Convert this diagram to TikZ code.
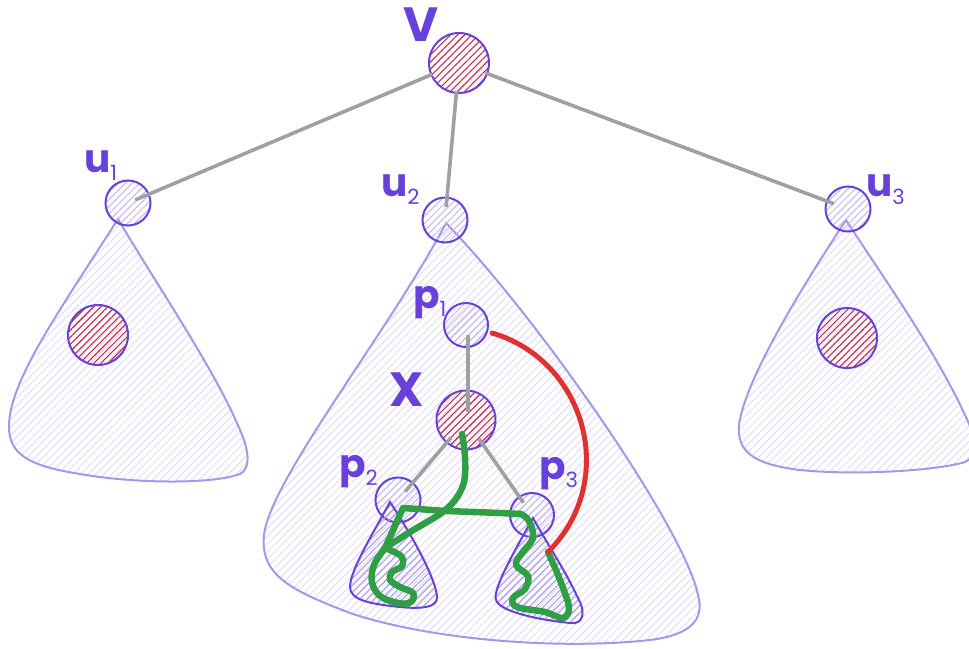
\documentclass[tikz,border=0pt]{standalone}
\usepackage{fontspec}
\newfontfamily\lblfont{Poppins}
\usetikzlibrary{patterns.meta}
\definecolor{vio}{HTML}{6741D9}
\definecolor{trib}{HTML}{A597EA}
\definecolor{trih}{HTML}{DDD7F8}
\definecolor{strih}{HTML}{A898EE}
\definecolor{uh}{HTML}{C2B6F4}
\definecolor{rh}{HTML}{C92A4A}
\definecolor{edgegray}{HTML}{A0A0A0}
\definecolor{grn}{HTML}{2F9E44}
\definecolor{rd}{HTML}{E03131}
\tikzset{
  tri/.style={draw=trib, line width=2pt, pattern={Lines[angle=45,distance=5.5pt,line width=0.8pt]}, pattern color=trih},
  stri/.style={draw=vio, line width=2pt, pattern={Lines[angle=45,distance=5pt,line width=1pt]}, pattern color=strih},
  ucirc/.style={circle, draw=vio, line width=2pt, inner sep=0pt, minimum size=45pt, pattern={Lines[angle=45,distance=5pt,line width=1pt]}, pattern color=uh},
  rcirc/.style={circle, draw=vio, line width=2pt, inner sep=0pt, minimum size=60pt, pattern={Lines[angle=45,distance=5pt,line width=1.1pt]}, pattern color=rh},
  gedge/.style={draw=edgegray, line width=3.6pt},
  lbl/.style={text=vio, inner sep=0pt, font=\lblfont},
  greenpath/.style={draw=grn, line width=6.5pt, line cap=round, line join=round},
  redpath/.style={draw=rd, line width=5pt, line cap=round},
}
\newcommand{\capl}[1]{{\fontsize{48}{48}\selectfont\bfseries #1}}
\newcommand{\lowl}[2]{{\fontsize{39}{39}\selectfont\bfseries #1}{\fontsize{21}{21}\selectfont\raisebox{-8pt}{#2}}}
\begin{document}
\begin{tikzpicture}[x=1pt,y=-1pt]
\useasboundingbox (0,0) rectangle (969,648);

% big triangles (subtrees)
\path[tri] (118,219) .. controls (60,310) and (10,380) .. (9,425) .. controls (8,455) and (30,466) .. (80,474)
  .. controls (130,483) and (210,485) .. (240,474) .. controls (252,468) and (248,448) .. (240,430)
  .. controls (215,370) and (160,290) .. (118,219) -- cycle;
\path[tri] (446,223) .. controls (390,330) and (270,480) .. (264,535) .. controls (260,575) and (290,590) .. (350,613)
  .. controls (430,640) and (560,650) .. (650,640) .. controls (690,635) and (705,620) .. (698,595)
  .. controls (685,530) and (540,320) .. (446,223) -- cycle;
\path[tri] (846,220) .. controls (800,290) and (745,380) .. (739,425) .. controls (736,455) and (760,465) .. (800,470)
  .. controls (860,476) and (940,470) .. (965,462) .. controls (980,455) and (975,435) .. (965,415)
  .. controls (935,350) and (885,280) .. (846,220) -- cycle;

% nodes
\node[rcirc] (v) at (459,63) {};
\node[ucirc] (u1) at (128,203) {};
\node[ucirc] (u2) at (445,220) {};
\node[ucirc] (u3) at (848,209) {};
\node[rcirc] (r1) at (98,335) {};
\node[rcirc] (r3) at (847,338) {};
\node[ucirc, minimum size=44pt] (p1) at (466,325) {};
\node[rcirc, minimum size=59pt] (x) at (466,420) {};
\node[ucirc] (p2) at (398,500) {};
\node[ucirc, minimum size=44pt] (p3) at (532,515) {};

% small triangles
\path[stri] (390,502) .. controls (375,530) and (350,570) .. (350,587) .. controls (350,600) and (370,604) .. (400,607)
  .. controls (420,609) and (438,608) .. (437,597) .. controls (436,580) and (415,540) .. (390,502) -- cycle;
\path[stri] (533,518) .. controls (515,550) and (492,590) .. (496,600) .. controls (500,612) and (540,620) .. (570,623)
  .. controls (585,625) and (585,610) .. (578,598) .. controls (565,570) and (548,545) .. (533,518) -- cycle;

% tree edges
\draw[gedge, shorten <=29pt, shorten >=8pt] (v.center) -- (u1.center);
\draw[gedge, shorten <=28pt, shorten >=13pt] (v.center) -- (u2.center);
\draw[gedge, shorten <=28pt, shorten >=15pt] (v.center) -- (u3.center);
\draw[gedge, shorten <=10pt, shorten >=8pt] ([xshift=2pt]p1.center) -- ([xshift=2pt]x.center);
\draw[gedge, shorten <=23pt, shorten >=11pt] (x.center) -- (p2.center);
\draw[gedge, shorten <=23pt, shorten >=15pt] (x.center) -- (p3.center);

% green walk
\coordinate (g0) at (462,434);
\coordinate (gj) at (385,548);
\coordinate (gt) at (403,508);
\coordinate (gend) at (548,552);
\draw[greenpath] plot[smooth, tension=0.6] coordinates {(g0) (465,457) (464,482) (455,500) (440,514) (410,532) (gj)};
\draw[greenpath] plot[smooth, tension=0.6] coordinates {(gj) (374,565) (372,582) (380,596) (398,603) (411,602) (413,593) (400,587) (390,580) (392,572) (402,566) (401,556) (gj)};
\draw[greenpath] (gj) -- (gt) -- (447,511) -- (500,513) -- (521,514);
\draw[greenpath] plot[smooth, tension=0.6] coordinates {(521,514) (529,521) (533,538) (522,553) (516,565) (528,576) (525,589) (513,598) (517,607) (545,612) (563,618) (569,608) (563,588) (555,568) (gend)};

% red jump
\coordinate (r0) at (492,333);
\draw[redpath] (r0) .. controls (585,360) and (620,480) .. (gend);

% labels
\node[lbl] (lv) at (421,25) {\capl{V}};
\node[lbl] (lx) at (407,390) {\capl{X}};
\node[lbl, anchor=base west] (lu1) at (84,172) {\lowl{u}{1}};
\node[lbl, anchor=base west] (lu2) at (381,196) {\lowl{u}{2}};
\node[lbl, anchor=base west] (lu3) at (866,196) {\lowl{u}{3}};
\node[lbl, anchor=base west] (lp1) at (413,308) {\lowl{p}{1}};
\node[lbl, anchor=base west] (lp2) at (339,477) {\lowl{p}{2}};
\node[lbl, anchor=base west] (lp3) at (539,479) {\lowl{p}{3}};
\end{tikzpicture}
\end{document}
